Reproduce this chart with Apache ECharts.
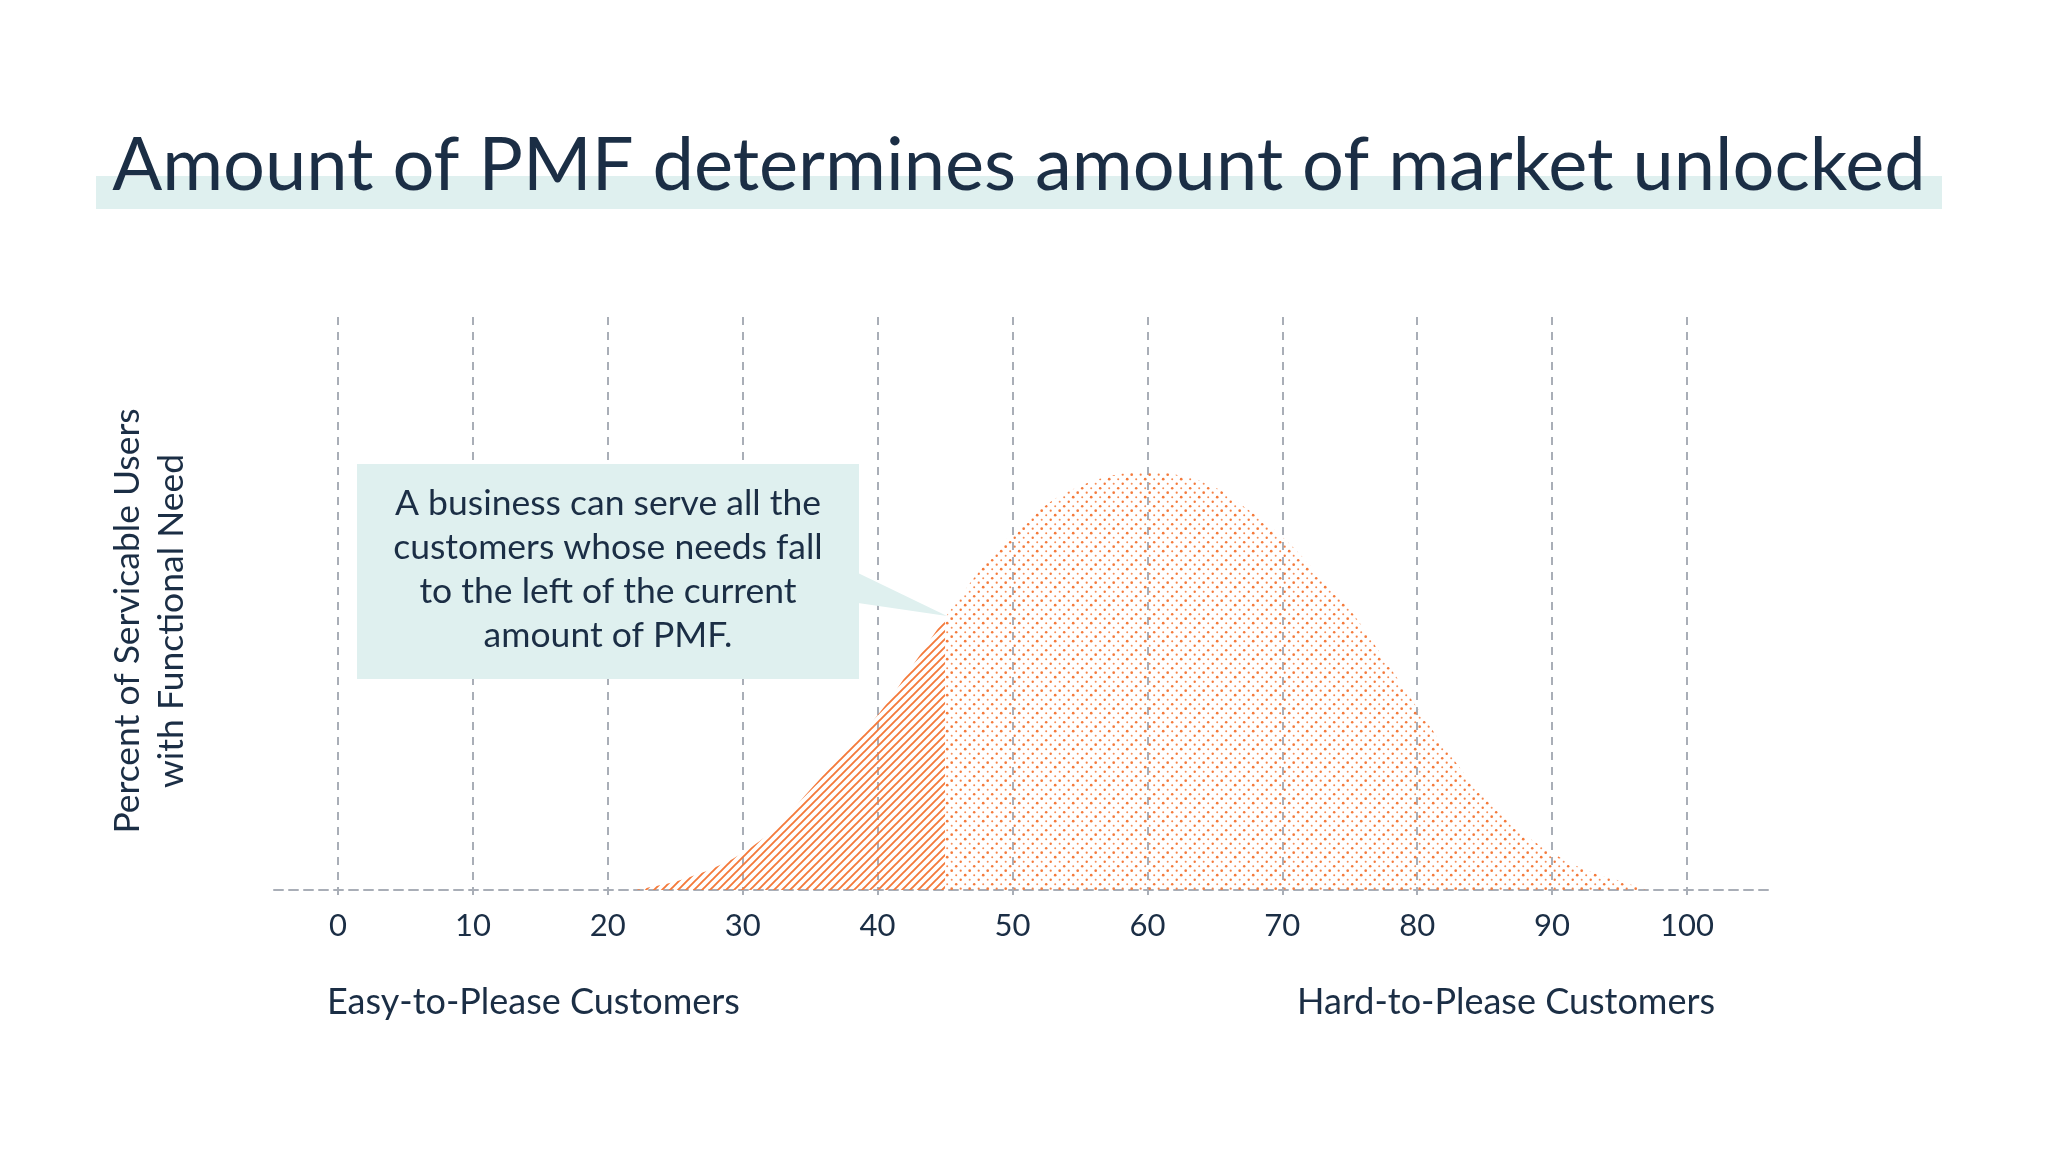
<!DOCTYPE html>
<html>
<head>
<meta charset="utf-8">
<script src="https://cdn.jsdelivr.net/npm/echarts@6/dist/echarts.min.js"></script>
<style>
html,body{margin:0;padding:0;background:#fff;}
#chart{width:2048px;height:1152px;}
</style>
</head>
<body>
<div id="chart"></div>
<script>
// ---- Data ----
const titleText = 'Amount of PMF determines amount of market unlocked';
const yAxisTitle = 'Percent of Servicable Users\nwith Functional Need';
const leftLabel = 'Easy-to-Please Customers';
const rightLabel = 'Hard-to-Please Customers';
const calloutText = 'A business can serve all the\ncustomers whose needs fall\nto the left of the current\namount of PMF.';
const xTicks = [0, 10, 20, 30, 40, 50, 60, 70, 80, 90, 100];

// served region (left of current PMF = 45)
const servedX = [22, 24, 26, 28, 30, 32.5, 35, 37.5, 40, 42.5, 45];
const servedY = [0, 0.9, 2.2, 4.0, 6.5, 11.0, 17.5, 24.0, 30.5, 38.8, 47.5];
// unserved region (right of current PMF)
const unservedX = [45, 47.5, 50, 52.5, 55, 57.5, 60, 62.5, 65, 67.5, 70, 72.5, 75, 77.5, 80, 82.5, 85, 87.5, 90, 92.5, 95, 97];
const unservedY = [47.5, 55.5, 62.3, 67.2, 70.5, 72.4, 72.9, 72.3, 70.3, 66.3, 61.6, 55.5, 48.9, 40.5, 31.8, 23.4, 16.1, 10.5, 6.5, 3.5, 1.6, 0];

// ---- Patterns ----
const ORANGE = '#f47a3b';
function hatchPattern() {
  const s = 8;
  const c = document.createElement('canvas');
  c.width = s; c.height = s;
  const g = c.getContext('2d');
  g.strokeStyle = ORANGE;
  g.lineWidth = 1.9;
  g.beginPath();
  g.moveTo(-1, s + 1); g.lineTo(s + 1, -1);
  g.moveTo(-1, 1); g.lineTo(1, -1);
  g.moveTo(s - 1, s + 1); g.lineTo(s + 1, s - 1);
  g.stroke();
  return c;
}
function dotPattern() {
  const s = 18;
  const c = document.createElement('canvas');
  c.width = s; c.height = s;
  const g = c.getContext('2d');
  const dots = [
    [2.2, 2.2, 1.25, 1.0], [11.2, 2.2, 1.0, 0.85],
    [6.7, 6.7, 1.1, 0.95], [15.7, 6.7, 1.35, 1.0],
    [2.2, 11.2, 1.0, 0.9], [11.2, 11.2, 1.35, 1.0],
    [6.7, 15.7, 1.2, 1.0], [15.7, 15.7, 1.0, 0.85]
  ];
  dots.forEach(d => {
    g.fillStyle = ORANGE;
    g.globalAlpha = d[3];
    g.beginPath();
    g.arc(d[0], d[1], d[2], 0, Math.PI * 2);
    g.fill();
  });
  return c;
}

const chart = echarts.init(document.getElementById('chart'), null, {renderer: 'canvas'});
const TEXT = '#1b2e45';
const GRIDC = '#a9aeb7';
const FONT = 'Lato';

const option = {
  backgroundColor: '#ffffff',
  animation: false,
  grid: [
    {left: 274, right: 276, top: 317, height: 573},
    {left: 338, right: 361, top: 317, height: 573}
  ],
  xAxis: [
    {
      gridIndex: 0, type: 'value', min: 0, max: 1,
      axisLine: {show: true, lineStyle: {color: GRIDC, width: 2, type: [9, 6]}},
      axisTick: {show: false}, axisLabel: {show: false}, splitLine: {show: false}
    },
    {
      gridIndex: 1, type: 'value', min: 0, max: 100, interval: 10,
      axisLine: {show: false},
      axisTick: {show: true, length: 5, lineStyle: {color: GRIDC, width: 2}},
      axisLabel: {
        show: true, margin: 20, color: TEXT, fontFamily: FONT, fontSize: 31,
        formatter: v => xTicks.indexOf(v) >= 0 ? String(v) : ''
      },
      splitLine: {show: true, lineStyle: {color: GRIDC, width: 2, type: [8, 7]}}
    }
  ],
  yAxis: [
    {gridIndex: 0, type: 'value', min: 0, max: 100, show: false},
    {gridIndex: 1, type: 'value', min: 0, max: 100, show: false}
  ],
  series: [
    {
      type: 'line', xAxisIndex: 1, yAxisIndex: 1,
      data: servedX.map((x, i) => [x, servedY[i]]),
      smooth: 0.4, showSymbol: false, silent: true,
      lineStyle: {width: 0, opacity: 0},
      areaStyle: {color: {image: hatchPattern(), repeat: 'repeat'}, opacity: 1},
      z: 2
    },
    {
      type: 'line', xAxisIndex: 1, yAxisIndex: 1,
      data: unservedX.map((x, i) => [x, unservedY[i]]),
      smooth: 0.4, showSymbol: false, silent: true,
      lineStyle: {width: 0, opacity: 0},
      areaStyle: {color: {image: dotPattern(), repeat: 'repeat'}, opacity: 1},
      z: 2
    }
  ],
  graphic: [
    {type: 'rect', z: 100, shape: {x: 96, y: 176, width: 1846, height: 33}, style: {fill: '#dff0ef'}},
    {type: 'text', z: 101, x: 1019, y: 166, style: {
      text: titleText, fill: TEXT, font: '74px Lato', align: 'center', verticalAlign: 'middle'}},
    {type: 'polygon', z: 100, shape: {points: [[858, 573], [947, 616], [858, 603]]}, style: {fill: '#dff0ef'}},
    {type: 'rect', z: 100, shape: {x: 357, y: 464, width: 502, height: 215}, style: {fill: '#dff0ef'}},
    {type: 'text', z: 101, x: 608, y: 570, style: {
      text: calloutText, fill: TEXT, font: '35.5px Lato', lineHeight: 44, align: 'center', verticalAlign: 'middle'}},
    {type: 'text', z: 101, x: 150, y: 621, rotation: Math.PI / 2, style: {
      text: yAxisTitle, fill: TEXT, font: '35.5px Lato', lineHeight: 44, align: 'center', verticalAlign: 'middle'}},
    {type: 'text', z: 101, x: 327, y: 1002, style: {
      text: leftLabel, fill: TEXT, font: '36px Lato', align: 'left', verticalAlign: 'middle'}},
    {type: 'text', z: 101, x: 1715, y: 1002, style: {
      text: rightLabel, fill: TEXT, font: '36px Lato', align: 'right', verticalAlign: 'middle'}}
  ]
};
chart.setOption(option);
</script>
</body>
</html>
